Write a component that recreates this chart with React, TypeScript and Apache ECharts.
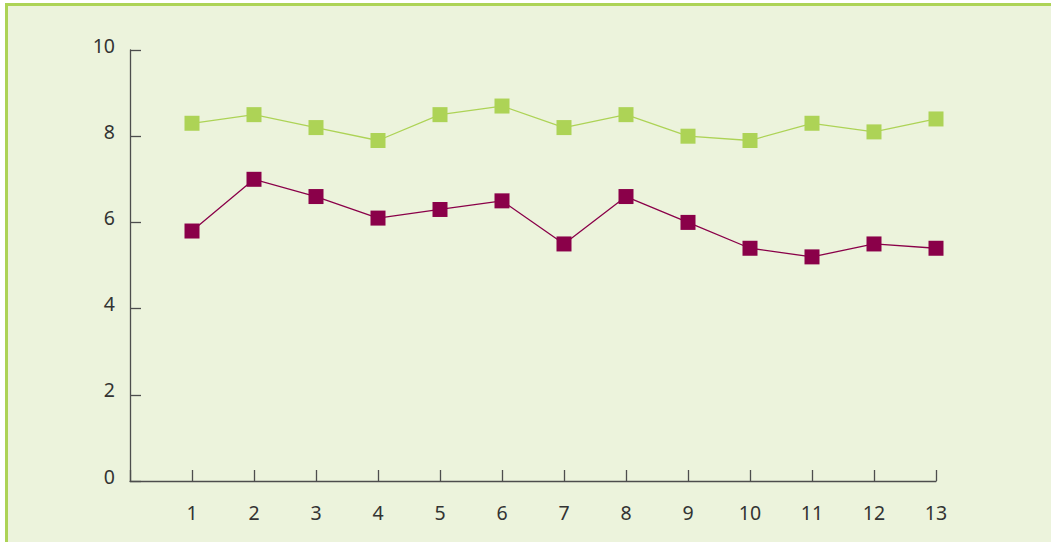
import React, { useEffect, useRef } from "react";
import * as echarts from "echarts";

const xValues = [1, 2, 3, 4, 5, 6, 7, 8, 9, 10, 11, 12, 13];
const greenSeries = [8.3, 8.5, 8.2, 7.9, 8.5, 8.7, 8.2, 8.5, 8.0, 7.9, 8.3, 8.1, 8.4];
const purpleSeries = [5.8, 7.0, 6.6, 6.1, 6.3, 6.5, 5.5, 6.6, 6.0, 5.4, 5.2, 5.5, 5.4];
const yTicks = [0, 2, 4, 6, 8, 10];

const GREEN = "#add356";
const PURPLE = "#8a0049";
const AXIS = "#4d4d4d";
const FONT = "'Noto Sans', 'Open Sans', sans-serif";

export default function App() {
  const ref = useRef<HTMLDivElement>(null);
  useEffect(() => {
    if (!ref.current) return;
    const chart = echarts.init(ref.current, null, { renderer: "svg" });
    chart.setOption({
      animation: false,
      backgroundColor: "#ffffff",
      graphic: [
        {
          type: "rect",
          z: -10,
          silent: true,
          shape: { x: 6.5, y: 4.5, width: 1100, height: 600 },
          style: { fill: "#ecf3dc", stroke: GREEN, lineWidth: 3 },
        },
      ],
      grid: { left: 130, right: 115, top: 50, bottom: 61, containLabel: false },
      xAxis: {
        type: "value",
        min: 0,
        max: 13,
        interval: 1,
        splitLine: { show: false },
        axisLine: { show: true, lineStyle: { color: AXIS, width: 1.3 } },
        axisTick: { show: true, inside: true, length: 11, lineStyle: { color: AXIS, width: 1.3 } },
        axisLabel: {
          margin: 21,
          color: "#333333",
          fontSize: 19.5,
          fontFamily: FONT,
          formatter: (v: number) => (xValues.includes(v) ? String(v) : ""),
        },
      },
      yAxis: {
        type: "value",
        min: yTicks[0],
        max: yTicks[yTicks.length - 1],
        interval: 2,
        splitLine: { show: false },
        axisLine: { show: true, lineStyle: { color: AXIS, width: 1.3 } },
        axisTick: { show: true, inside: true, length: 11, lineStyle: { color: AXIS, width: 1.3 } },
        axisLabel: {
          margin: 15,
          color: "#333333",
          fontSize: 19.5,
          fontFamily: FONT,
          verticalAlign: "bottom",
          lineHeight: 10,
        },
      },
      series: [
        {
          type: "line",
          data: xValues.map((x, i) => [x, greenSeries[i]]),
          symbol: "rect",
          symbolSize: 15,
          itemStyle: { color: GREEN },
          lineStyle: { color: GREEN, width: 1.3 },
        },
        {
          type: "line",
          data: xValues.map((x, i) => [x, purpleSeries[i]]),
          symbol: "rect",
          symbolSize: 15,
          itemStyle: { color: PURPLE },
          lineStyle: { color: PURPLE, width: 1.3 },
        },
      ],
    });
    return () => chart.dispose();
  }, []);
  return (
    <div
      ref={ref}
      style={{ position: "absolute", left: 0, top: 0, width: 1051, height: 542 }}
    />
  );
}
